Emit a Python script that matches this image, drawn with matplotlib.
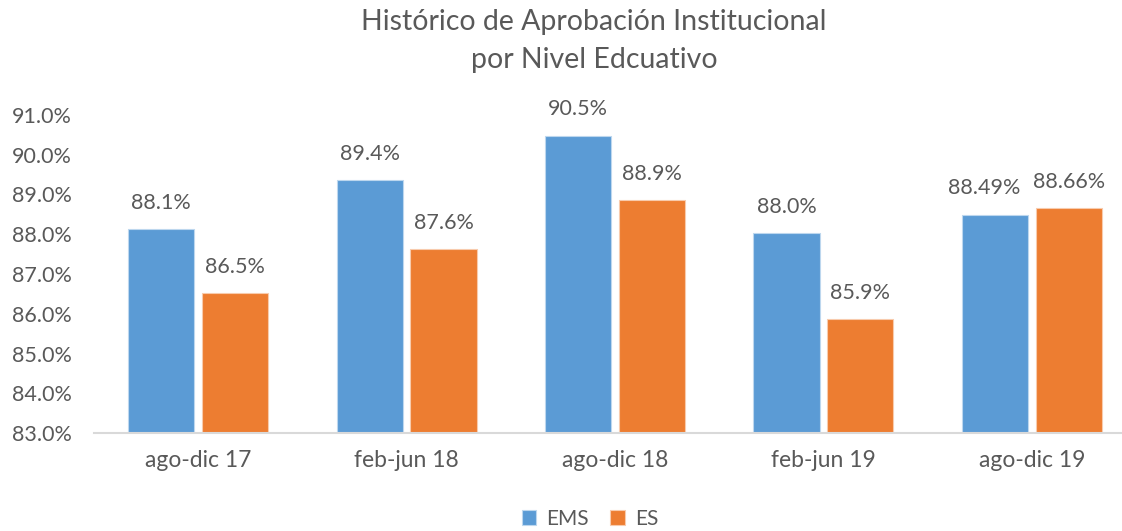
import numpy as np
import matplotlib
matplotlib.use('Agg')
import matplotlib.pyplot as plt

categories = ['ago-dic 17', 'feb-jun 18', 'ago-dic 18', 'feb-jun 19', 'ago-dic 19']
ems = [88.12, 89.36, 90.48, 88.03, 88.49]
es = [86.52, 87.62, 88.85, 85.86, 88.66]
ems_labels = ['88.1%', '89.4%', '90.5%', '88.0%', '88.49%']
es_labels = ['86.5%', '87.6%', '88.9%', '85.9%', '88.66%']
yticks = [83, 84, 85, 86, 87, 88, 89, 90, 91]

plt.rcParams['font.family'] = ['Lato', 'DejaVu Sans']
text_color = '#595959'
blue = '#5B9BD5'
orange = '#ED7D31'

fig = plt.figure(figsize=(11.22, 5.31), dpi=100)
ax = fig.add_axes([94/1122, 1 - 433/531, 1028/1122, 318/531])

x = np.arange(len(categories))
w = 0.317
off = 0.177
b1 = ax.bar(x - off, [v - 83 for v in ems], w, bottom=83, color=blue,
            edgecolor='#BDD7EE', linewidth=0.8, label='EMS')
b2 = ax.bar(x + off, [v - 83 for v in es], w, bottom=83, color=orange,
            edgecolor='#F8CBAD', linewidth=0.8, label='ES')

# data labels over each bar (last EMS one nudged left so it doesn't collide)
for i, (xi, v, s) in enumerate(zip(x - off, ems, ems_labels)):
    dx = -8 if i == len(ems) - 1 else 0
    ax.annotate(s, (xi, v), xytext=(dx, 19), textcoords='offset points',
                ha='center', va='center', fontsize=15.5, color=text_color)
for xi, v, s in zip(x + off, es, es_labels):
    ax.annotate(s, (xi, v), xytext=(0, 19), textcoords='offset points',
                ha='center', va='center', fontsize=15.5, color=text_color)

ax.set_ylim(83, 91)
ax.set_xlim(-0.5, -0.5 + 1028/208.4)
ax.set_yticks(yticks)
ax.set_yticklabels(['%.1f%%' % t for t in yticks])
ax.set_xticks(x)
ax.set_xticklabels(categories)
ax.tick_params(axis='both', length=0, colors=text_color)
ax.tick_params(axis='x', labelsize=16.5, pad=12)
ax.tick_params(axis='y', labelsize=15.5, pad=16)
for sp in ['top', 'right', 'left']:
    ax.spines[sp].set_visible(False)
ax.spines['bottom'].set_color('#D9D9D9')
ax.spines['bottom'].set_linewidth(1.5)

fig.text(594/1122, 1 - 22/531, 'Histórico de Aprobación Institucional',
         ha='center', va='center', fontsize=20.5, color=text_color)
fig.text(594/1122, 1 - 60/531, 'por Nivel Edcuativo',
         ha='center', va='center', fontsize=20.5, color=text_color)

fig.legend(handles=[b1, b2], labels=['EMS', 'ES'], loc='center',
           bbox_to_anchor=(590/1122, 1 - 519/531), ncol=2, frameon=False,
           fontsize=15, labelcolor=text_color, handlelength=0.7,
           handleheight=0.7, handletextpad=0.5, columnspacing=1.0)

fig.savefig('out.png', dpi=100)
